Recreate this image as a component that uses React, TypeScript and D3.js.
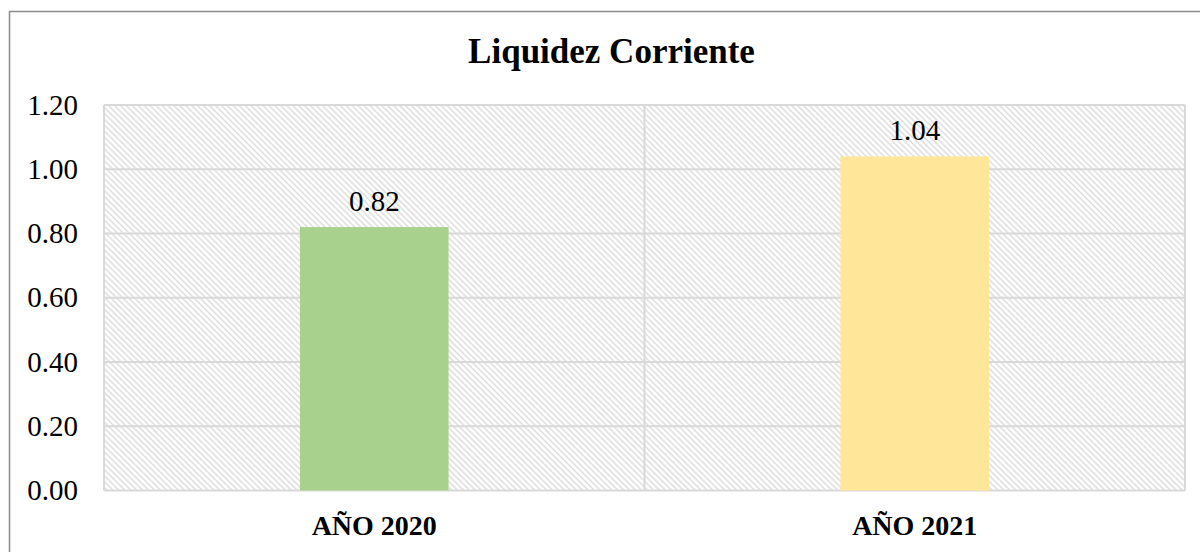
import React from "react";
import * as d3 from "d3";

const categories = ["AÑO 2020", "AÑO 2021"];
const values = [0.82, 1.04];
const colors = ["#A9D18E", "#FFE699"];
const yTicks = [0, 0.2, 0.4, 0.6, 0.8, 1.0, 1.2];
const title = "Liquidez Corriente";

export default function App() {
  const W = 1200, H = 552;
  const left = 104, right = 1185, top = 105, bottom = 490.5;
  const x = d3.scaleBand<string>().domain(categories).range([left, right]).paddingInner(0).paddingOuter(0);
  const y = d3.scaleLinear().domain([0, 1.2]).range([bottom, top]);
  const bw = x.bandwidth() * 0.275;
  const font = "'Liberation Serif', 'Times New Roman', serif";
  return (
    <svg width={W} height={H} style={{ position: "absolute", left: 0, top: 0 }}>
      <defs>
        <pattern id="hatch" patternUnits="userSpaceOnUse" width="4.2" height="4.2" patternTransform="rotate(45)">
          <line x1="0" y1="2.1" x2="4.2" y2="2.1" stroke="#dcdcdc" strokeWidth="1.5" />
        </pattern>
      </defs>
      <rect x={0} y={0} width={W} height={H} fill="#fff" />
      <rect x={9.5} y={11.5} width={W} height={H} fill="none" stroke="#8c8c8c" strokeWidth={1.5} />
      <rect x={left} y={top} width={right - left} height={bottom - top} fill="url(#hatch)" />
      {yTicks.map((t) => (
        <line key={t} x1={left} x2={right} y1={y(t)} y2={y(t)} stroke="#d9d9d9" strokeWidth={2} />
      ))}
      <line x1={left} x2={left} y1={top} y2={bottom} stroke="#d9d9d9" strokeWidth={2} />
      <line x1={right} x2={right} y1={top} y2={bottom} stroke="#d9d9d9" strokeWidth={2} />
      <line x1={(x(categories[1]) as number)} x2={(x(categories[1]) as number)} y1={top} y2={bottom} stroke="#d9d9d9" strokeWidth={2} />
      {categories.map((c, i) => {
        const cx = (x(c) as number) + x.bandwidth() / 2;
        return (
          <g key={c}>
            <rect x={cx - bw / 2} y={y(values[i])} width={bw} height={bottom - y(values[i])} fill={colors[i]} />
            <text x={cx} y={y(values[i]) - 16.5} textAnchor="middle" fontFamily={font} fontSize={29} fill="#000">
              {values[i].toFixed(2)}
            </text>
            <text x={cx} y={535} textAnchor="middle" fontFamily={font} fontSize={28} fontWeight="bold" fill="#000">
              {c}
            </text>
          </g>
        );
      })}
      {yTicks.map((t) => (
        <text key={t} x={78} y={y(t) + 9.5} textAnchor="end" fontFamily={font} fontSize={29} fill="#000">
          {t.toFixed(2)}
        </text>
      ))}
      <text x={611.5} y={63} textAnchor="middle" fontFamily={font} fontSize={35} fontWeight="bold" fill="#000">
        {title}
      </text>
    </svg>
  );
}
